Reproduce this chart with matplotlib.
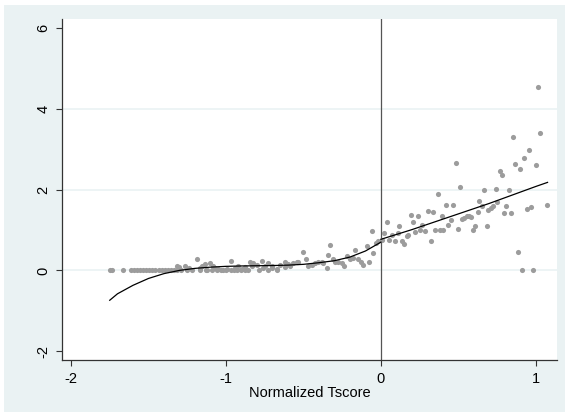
import matplotlib
matplotlib.use('Agg')
import matplotlib.pyplot as plt
from matplotlib.patches import Rectangle
import numpy as np

plt.rcParams['font.family'] = ['Liberation Sans', 'DejaVu Sans']
plt.rcParams['axes.unicode_minus'] = False

# scatter points, left of the cutoff
left_zero_x = [-1.749, -1.733, -1.665, -1.615, -1.595, -1.575, -1.555, -1.535,
               -1.515, -1.495, -1.475, -1.455, -1.435, -1.415, -1.395, -1.375,
               -1.355, -1.335, -1.315, -1.29, -1.25, -1.22, -1.17, -1.13,
               -1.09, -1.06, -1.03, -1.00, -0.97, -0.93, -0.90, -0.86, -0.79,
               -0.73, -0.67]
left_x = [-1.315, -1.30, -1.265, -1.24, -1.19, -1.17, -1.155, -1.135, -1.12,
          -1.103, -1.082, -1.07, -1.05, -1.017, -0.996, -0.97, -0.95, -0.942,
          -0.92, -0.899, -0.88, -0.877, -0.845, -0.83, -0.824, -0.802, -0.77,
          -0.76, -0.748, -0.727, -0.705, -0.70, -0.673, -0.652, -0.62, -0.619,
          -0.60, -0.587, -0.566, -0.54, -0.534, -0.501, -0.484, -0.469, -0.447,
          -0.426, -0.404, -0.383, -0.372, -0.35, -0.34, -0.329, -0.312, -0.297,
          -0.275, -0.254, -0.239, -0.221, -0.2, -0.179, -0.168, -0.146, -0.131,
          -0.114, -0.088, -0.075, -0.06, -0.05, -0.032, -0.017]
left_y = [0.12, 0.08, 0.10, 0.05, 0.28, 0.05, 0.12, 0.16, 0.0,
          0.18, 0.10, 0.05, 0.03, 0.02, 0.04, 0.24, 0.0, 0.06,
          0.10, 0.03, 0.0, 0.075, 0.22, 0.10, 0.18, 0.14, 0.24,
          0.05, 0.10, 0.18, 0.06, 0.12, 0.03, 0.14, 0.08, 0.22,
          0.15, 0.10, 0.18, 0.22, 0.22, 0.45, 0.27, 0.12, 0.14,
          0.18, 0.21, 0.22, 0.18, 0.06, 0.39, 0.64, 0.28, 0.22,
          0.22, 0.18, 0.12, 0.36, 0.27, 0.31, 0.51, 0.28, 0.22,
          0.14, 0.61, 0.20, 0.97, 0.43, 0.68, 0.72]

# scatter points, right of the cutoff
right_x = [0.01, 0.02, 0.037, 0.052, 0.069, 0.09, 0.108, 0.116, 0.133, 0.15,
           0.166, 0.176, 0.194, 0.208, 0.219, 0.237, 0.252, 0.262, 0.284,
           0.305, 0.323, 0.338, 0.348, 0.366, 0.381, 0.392, 0.402, 0.419,
           0.434, 0.452, 0.467, 0.484, 0.495, 0.51, 0.52, 0.538, 0.553, 0.568,
           0.581, 0.596, 0.606, 0.624, 0.634, 0.65, 0.667, 0.682, 0.692, 0.71,
           0.725, 0.74, 0.75, 0.768, 0.783, 0.796, 0.806, 0.826, 0.839, 0.854,
           0.865, 0.882, 0.897, 0.912, 0.925, 0.94, 0.955, 0.968, 0.981,
           0.998, 1.011, 1.026, 1.069]
right_y = [0.76, 0.92, 1.19, 0.76, 0.88, 0.72, 0.93, 1.09, 0.74, 0.66,
           0.86, 0.88, 1.36, 1.21, 0.94, 1.34, 1.01, 1.13, 0.97,
           1.48, 0.72, 1.44, 0.99, 1.88, 1.01, 1.34, 1.01, 1.63,
           1.13, 1.24, 1.63, 2.66, 1.03, 2.06, 1.28, 1.31, 1.34, 1.34,
           1.32, 1.01, 1.09, 1.44, 1.73, 1.59, 1.98, 1.09, 1.50, 1.55,
           1.59, 2.02, 1.69, 2.47, 2.36, 1.42, 1.60, 1.98, 1.42, 3.31,
           2.64, 0.46, 2.51, 0.0, 2.78, 1.53, 2.97, 1.56, 0.0,
           2.60, 4.55, 3.41, 1.62]

# fitted curves
fit_left_x = [-1.75, -1.7, -1.6, -1.5, -1.4, -1.3, -1.2, -1.1, -1.0, -0.9,
              -0.8, -0.7, -0.6, -0.5, -0.4, -0.3, -0.2, -0.1, 0.0]
fit_left_y = [-0.74, -0.58, -0.37, -0.20, -0.08, 0.0, 0.05, 0.08, 0.10, 0.11,
              0.115, 0.12, 0.13, 0.15, 0.19, 0.24, 0.33, 0.48, 0.70]
fit_right_x = [0.0, 0.1, 0.2, 0.3, 0.4, 0.5, 0.6, 0.7, 0.8, 0.9, 1.0, 1.075]
fit_right_y = [0.77, 0.89, 1.01, 1.14, 1.27, 1.40, 1.53, 1.66, 1.80, 1.94,
               2.08, 2.18]

x_ticks = [-2, -1, 0, 1]
y_ticks = [-2, 0, 2, 4, 6]

fig = plt.figure(figsize=(5.65, 4.13), dpi=100, facecolor='white')
fig.patches.append(Rectangle((4 / 565, 1 / 413), 1, (413 - 6) / 413,
                             transform=fig.transFigure, facecolor='#EAF2F3',
                             edgecolor='none', zorder=-10))
ax = fig.add_axes([62 / 565, 53 / 413, 495 / 565, 340.7 / 413])
ax.set_facecolor('white')

for yv in [0, 2, 4]:
    ax.axhline(yv, color='#EAF2F3', lw=1.2, zorder=1)
ax.axvline(0, color='#555555', lw=0.9, zorder=2)

ax.plot(left_zero_x, [0] * len(left_zero_x), 'o', color='#9C9C9C', ms=3.7,
        mec='none', zorder=3)
ax.plot(left_x, left_y, 'o', color='#9C9C9C', ms=3.7, mec='none', zorder=3)
ax.plot(right_x, right_y, 'o', color='#9C9C9C', ms=3.7, mec='none', zorder=3)
ax.plot(fit_left_x, fit_left_y, color='black', lw=0.9, zorder=4)
ax.plot(fit_right_x, fit_right_y, color='black', lw=0.9, zorder=4)

ax.set_xlim(-2.058, 1.136)
ax.set_ylim(-2.22, 6.22)
ax.set_xticks(x_ticks)
ax.set_yticks(y_ticks)
ax.set_yticklabels([str(v) for v in y_ticks], rotation=90, va='center')
ax.tick_params(axis='both', direction='out', length=4.3, width=0.8,
               color='#333333', labelsize=10.5, labelcolor='black')
ax.tick_params(axis='x', pad=4)
ax.tick_params(axis='y', pad=4)
for s in ['top', 'right']:
    ax.spines[s].set_visible(False)
for s in ['left', 'bottom']:
    ax.spines[s].set_color('#333333')
    ax.spines[s].set_linewidth(0.9)
ax.set_xlabel('Normalized Tscore', fontsize=10.5, labelpad=0.5)

fig.savefig('out.png', dpi=100, facecolor='white')
